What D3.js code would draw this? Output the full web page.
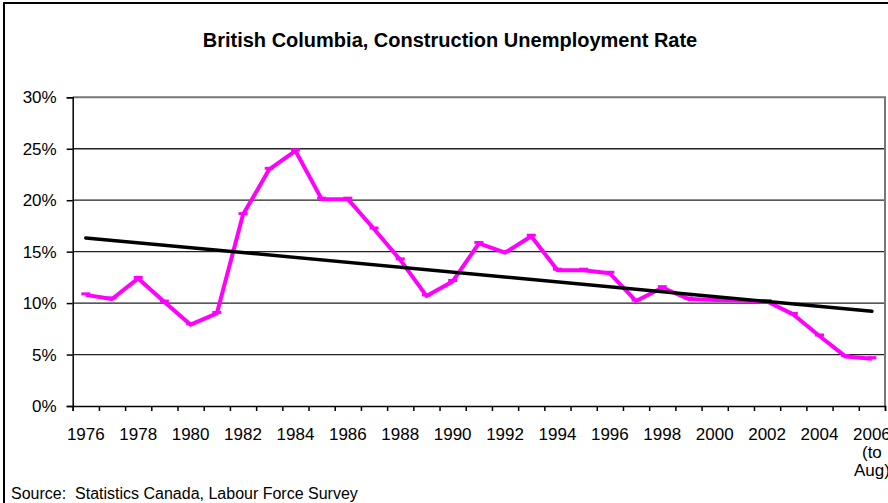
<!DOCTYPE html>
<html>
<head>
<meta charset="utf-8">
<script src="https://cdn.jsdelivr.net/npm/d3@7/dist/d3.min.js"></script>
<style>
  html, body { margin: 0; padding: 0; background: #fff; }
  svg { display: block; font-family: "Liberation Sans", Arial, sans-serif; }
</style>
</head>
<body>
<div id="chart"></div>
<script>
(function() {
    "use strict";

    // categories (one per year)
    var years = d3.range(1976, 2007);

    // unemployment rate, percent
    var rates = [10.8, 10.4, 12.4, 10.1, 7.9, 9.0, 18.6, 23.0, 24.8, 20.1,
                 20.1, 17.2, 14.2, 10.7, 12.1, 15.8, 14.9, 16.5, 13.2, 13.2,
                 12.9, 10.2, 11.5, 10.4, 10.3, 10.25, 10.15, 8.9, 6.8, 4.8, 4.6];

    // tick labels
    var yTicks = [0, 5, 10, 15, 20, 25, 30];
    var xLabelYears = [1976, 1978, 1980, 1982, 1984, 1986, 1988, 1990, 1992,
                       1994, 1996, 1998, 2000, 2002, 2004, 2006];
    var lastLabelLines = ["2006", "(to", "Aug)"];

    var title = "British Columbia, Construction Unemployment Rate";
    var source = "Source:  Statistics Canada, Labour Force Survey";

    var width = 888, height = 503;
    var plot = {left: 72.7, right: 885, top: 97.3, bottom: 406};

    var svg = d3.select("#chart").append("svg")
        .attr("width", width)
        .attr("height", height);

    // chart frame (runs off the right and bottom of the picture)
    svg.append("rect")
        .attr("x", 4).attr("y", 3)
        .attr("width", width + 20).attr("height", height + 20)
        .attr("fill", "#fff")
        .attr("stroke", "#000")
        .attr("stroke-width", 2);

    svg.append("text")
        .attr("x", 450).attr("y", 47)
        .attr("text-anchor", "middle")
        .attr("font-size", "20px")
        .attr("font-weight", "bold")
        .text(title);

    var x = d3.scaleBand().domain(years).range([plot.left, plot.right]).padding(0);
    var xEdge = d3.scaleLinear().domain([0, years.length]).range([plot.left, plot.right]);
    var y = d3.scaleLinear().domain([0, 30]).range([plot.bottom, plot.top]);
    var cx = function(d) { return x(d) + x.bandwidth() / 2; };

    // gridlines
    svg.append("g").selectAll("line")
        .data(yTicks.filter(function(t) { return t > 0 && t < 30; }))
        .join("line")
        .attr("x1", plot.left).attr("x2", plot.right)
        .attr("y1", function(d) { return y(d); })
        .attr("y2", function(d) { return y(d); })
        .attr("stroke", "#222")
        .attr("stroke-width", 1.3);

    // plot area border, top and right
    svg.append("path")
        .attr("d", "M" + plot.left + "," + plot.top + "H" + plot.right + "V" + plot.bottom)
        .attr("fill", "none")
        .attr("stroke", "#777")
        .attr("stroke-width", 2);

    // y axis
    var yAxis = svg.append("g")
        .attr("transform", "translate(" + plot.left + ",0)")
        .call(d3.axisLeft(y).tickValues(yTicks).tickSize(6).tickPadding(10)
            .tickFormat(function(d) { return d + "%"; }));
    yAxis.select(".domain").attr("stroke-width", 1.5);
    yAxis.selectAll("line").attr("stroke-width", 1.5);
    yAxis.selectAll("text")
        .attr("font-size", "17px")
        .attr("font-family", "Liberation Sans, Arial, sans-serif")
        .attr("fill", "#000");

    // x axis ticks at category edges
    var xTicks = svg.append("g")
        .attr("transform", "translate(0," + plot.bottom + ")")
        .call(d3.axisBottom(xEdge).tickValues(d3.range(years.length + 1))
            .tickSize(5).tickFormat(""));
    xTicks.select(".domain").attr("stroke-width", 1.5);
    xTicks.selectAll("line").attr("stroke-width", 1.5);

    // x labels at category centres
    var xLab = svg.append("g")
        .attr("transform", "translate(0," + plot.bottom + ")")
        .call(d3.axisBottom(x).tickValues(xLabelYears).tickSize(0).tickPadding(0)
            .tickFormat(""));
    xLab.select(".domain").remove();
    xLab.selectAll(".tick").each(function(d) {
        var lines = d === 2006 ? lastLabelLines : [String(d)];
        var t = d3.select(this).append("text")
            .attr("fill", "#000")
            .attr("font-size", "17px")
            .attr("font-family", "Liberation Sans, Arial, sans-serif")
            .attr("text-anchor", "middle");
        lines.forEach(function(s, i) {
            t.append("tspan").attr("x", 0).attr("y", 34 + i * 18).text(s);
        });
    });

    // linear trend (least squares, as the spreadsheet does)
    var n = rates.length;
    var mx = d3.mean(d3.range(n)), my = d3.mean(rates);
    var sxy = d3.sum(rates, function(v, i) { return (i - mx) * (v - my); });
    var sxx = d3.sum(d3.range(n), function(i) { return (i - mx) * (i - mx); });
    var slope = sxy / sxx, icpt = my - slope * mx;

    var line = d3.line()
        .x(function(d, i) { return cx(years[i]); })
        .y(function(d) { return y(d); });

    svg.append("path")
        .datum(rates)
        .attr("d", line)
        .attr("fill", "none")
        .attr("stroke", "#ff00ff")
        .attr("stroke-width", 4)
        .attr("stroke-linejoin", "round");

    // dash markers
    svg.append("g").selectAll("rect")
        .data(rates)
        .join("rect")
        .attr("x", function(d, i) { return cx(years[i]) - 4.5; })
        .attr("y", function(d) { return y(d) - 2.5; })
        .attr("width", 9).attr("height", 3)
        .attr("fill", "#ff00ff");

    svg.append("line")
        .attr("x1", cx(years[0])).attr("y1", y(icpt))
        .attr("x2", cx(years[n - 1])).attr("y2", y(icpt + slope * (n - 1)))
        .attr("stroke", "#000")
        .attr("stroke-width", 3.5)
        .attr("stroke-linecap", "round");

    svg.append("text")
        .attr("x", 11).attr("y", 499)
        .attr("font-size", "16px")
        .style("white-space", "pre")
        .text(source);
})();
</script>
</body>
</html>
